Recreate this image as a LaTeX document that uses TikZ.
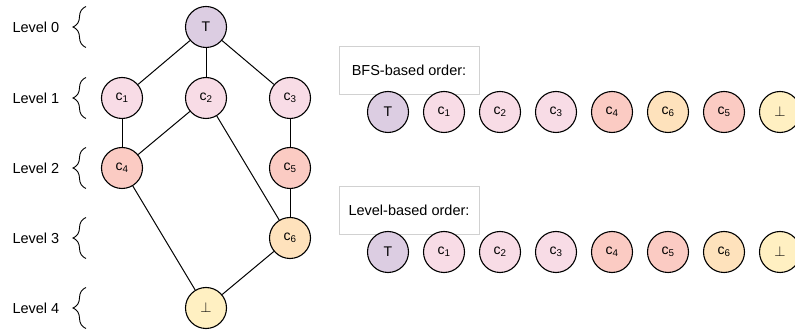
\documentclass[tikz,border=0pt]{standalone}
\usepackage{fontspec}
\setmainfont{Liberation Sans}
\usetikzlibrary{decorations.pathreplacing}
\definecolor{cT}{HTML}{DCCDE2}
\definecolor{cPink}{HTML}{F8DCE6}
\definecolor{cRed}{HTML}{FBCBC3}
\definecolor{cOrange}{HTML}{FEE2BC}
\definecolor{cYellow}{HTML}{FFF0C2}
\tikzset{
  vtx/.style={circle, draw=black, line width=1.1pt, minimum size=41pt, inner sep=0pt, font=\fontsize{14}{14}\selectfont},
  edge/.style={line width=1pt, black},
  lvl/.style={font=\fontsize{14.5}{15}\selectfont, anchor=west},
  br/.style={decorate, decoration={brace, amplitude=13pt}, line width=0.9pt},
  obox/.style={draw=black!18, line width=0.7pt, minimum width=140pt, minimum height=48pt, font=\fontsize{14.5}{15}\selectfont}
}
\newcommand{\cc}[1]{c\textsubscript{#1}}
\begin{document}
\begin{tikzpicture}[x=1pt,y=-1pt]
\useasboundingbox (0,0) rectangle (795,336);
% levels
\foreach \i/\y in {0/27,1/98,2/168,3/238,4/308}{
  \node[lvl] (L\i) at (9,\y) {Level \i};
  \coordinate (bt\i) at (86,\y-20.5);
  \coordinate (bb\i) at (86,\y+20.5);
  \draw[br] (bb\i) -- (bt\i);
}
% graph
\node[vtx, fill=cT] (T) at (206,27) {T};
\node[vtx, fill=cPink] (c1) at (122,98) {\cc{1}};
\node[vtx, fill=cPink] (c2) at (206,98) {\cc{2}};
\node[vtx, fill=cPink] (c3) at (290,98) {\cc{3}};
\node[vtx, fill=cRed] (c4) at (122,168) {\cc{4}};
\node[vtx, fill=cRed] (c5) at (290,168) {\cc{5}};
\node[vtx, fill=cOrange] (c6) at (290,238) {\cc{6}};
\node[vtx, fill=cYellow] (B) at (206,308) {$\bot$};
\draw[edge] (T) -- (c1);
\draw[edge] (T) -- (c2);
\draw[edge] (T) -- (c3);
\draw[edge] (c1) -- (c4);
\draw[edge] (c2) -- (c4);
\draw[edge] (c2) -- (c6);
\draw[edge] (c3) -- (c5);
\draw[edge] (c5) -- (c6);
\draw[edge] (c4) -- (B);
\draw[edge] (c6) -- (B);
% BFS order
\node[obox] (bfs) at (409,70) {BFS-based order:};
\node[vtx, fill=cT] (a1) at (388,112) {T};
\node[vtx, fill=cPink] (a2) at (444,112) {\cc{1}};
\node[vtx, fill=cPink] (a3) at (500,112) {\cc{2}};
\node[vtx, fill=cPink] (a4) at (556,112) {\cc{3}};
\node[vtx, fill=cRed] (a5) at (612,112) {\cc{4}};
\node[vtx, fill=cOrange] (a6) at (668,112) {\cc{6}};
\node[vtx, fill=cRed] (a7) at (724,112) {\cc{5}};
\node[vtx, fill=cYellow] (a8) at (780,112) {$\bot$};
% Level order
\node[obox] (lev) at (409,210) {Level-based order:};
\node[vtx, fill=cT] (b1) at (388,252) {T};
\node[vtx, fill=cPink] (b2) at (444,252) {\cc{1}};
\node[vtx, fill=cPink] (b3) at (500,252) {\cc{2}};
\node[vtx, fill=cPink] (b4) at (556,252) {\cc{3}};
\node[vtx, fill=cRed] (b5) at (612,252) {\cc{4}};
\node[vtx, fill=cRed] (b6) at (668,252) {\cc{5}};
\node[vtx, fill=cOrange] (b7) at (724,252) {\cc{6}};
\node[vtx, fill=cYellow] (b8) at (780,252) {$\bot$};
\end{tikzpicture}
\end{document}
